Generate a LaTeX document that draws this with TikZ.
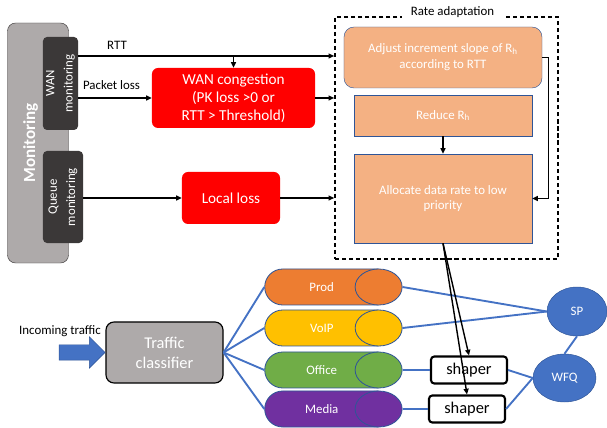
\documentclass[tikz,border=0pt]{standalone}
\usepackage{fontspec}
\setmainfont{Carlito}
\usepackage{tikz}
\usetikzlibrary{shapes,arrows.meta,positioning,calc}
\definecolor{monfill}{RGB}{174,170,170}
\definecolor{mondark}{RGB}{59,56,56}
\definecolor{alarmred}{RGB}{255,0,0}
\definecolor{rateorange}{RGB}{244,177,131}
\definecolor{edgeblue}{RGB}{47,85,151}
\definecolor{linkblue}{RGB}{68,114,196}
\definecolor{prodc}{RGB}{237,125,49}
\definecolor{voipc}{RGB}{255,192,0}
\definecolor{officec}{RGB}{112,173,71}
\definecolor{mediac}{RGB}{112,48,160}

\begin{document}
\begin{tikzpicture}[
    x=0.03cm, y=-0.03cm,
    font=\fontsize{11}{13.5}\selectfont,
    monbox/.style={draw=mondark,fill=monfill,rounded corners=0.24cm,
      minimum width=1.83cm,minimum height=7.2cm},
    probe/.style={fill=mondark,rounded corners=0.12cm,text=white,align=center,
      rotate=90,inner sep=0pt,font=\fontsize{11}{15.5}\selectfont},
    alarm/.style={fill=alarmred,rounded corners=0.18cm,text=white,align=center,
      font=\fontsize{13}{15.5}\selectfont},
    ratebox/.style={draw,line width=1.4pt,dash pattern=on 3.5pt off 2.5pt,
      minimum width=6.69cm,minimum height=7.26cm},
    rateop/.style={draw=edgeblue,fill=rateorange,text=white,align=center,
      minimum width=5.34cm},
    sorter/.style={draw,line width=1pt,fill=monfill,rounded corners=0.24cm,
      text=white,align=center,minimum width=3.51cm,minimum height=1.83cm,
      font=\fontsize{14}{17}\selectfont},
    inflow/.style={single arrow,draw=edgeblue,fill=linkblue,inner xsep=0pt,
      inner ysep=0.225cm,single arrow head extend=0.24cm,minimum height=1.38cm},
    qbody/.style={rounded rectangle,rounded rectangle east arc=none,
      draw=edgeblue,line width=0.7pt,text=white,inner sep=0pt,
      minimum width=3.405cm,minimum height=1.08cm},
    qend/.style={ellipse,draw=edgeblue,line width=0.7pt,inner sep=0pt,
      minimum width=1.41cm,minimum height=1.08cm},
    shaperbox/.style={draw,line width=1.8pt,fill=white,rounded corners=0.1cm,
      minimum width=2.28cm,minimum height=0.81cm,inner sep=0pt,
      font=\fontsize{14}{16}\selectfont},
    sched/.style={ellipse,draw=edgeblue,fill=linkblue,text=white,inner sep=0pt},
    flow/.style={-{Triangle[length=1.7mm,width=1.5mm]},line width=1.2pt},
    link/.style={draw=linkblue,line width=1.6pt}
  ]
  \useasboundingbox (0,0) rectangle (607,428);

  % monitoring side
  \node[monbox] (mon) at (38,143) {};
  \node[rotate=90,text=white,font=\fontsize{14.5}{17}\selectfont\bfseries] (mon-title) at (30.5,143) {Monitoring};
  \node[probe,minimum width=2.79cm,minimum height=1.05cm] (wan) at (60.5,83.5) {WAN\\monitoring};
  \node[probe,minimum width=2.76cm,minimum height=1.2cm] (queue) at (63,197) {Queue\\monitoring};

  \node[alarm,minimum width=4.89cm,minimum height=1.8cm] (wancong) at (233.5,98)
    {WAN congestion\\(PK loss >0 or\\RTT > Threshold)};
  \node[alarm,minimum width=2.94cm,minimum height=1.56cm] (loss) at (231,198) {Local loss};

  \node (rtt-lbl) at (117,45) {RTT};
  \node (pl-lbl) at (111.5,85) {Packet loss};

  % rate adaptation block
  \node[ratebox] (rate) at (446.5,138) {};
  \node[fill=white,inner xsep=7.5pt,inner ysep=1pt] (rate-title) at (452.5,12) {Rate adaptation};
  \node[rateop,rounded corners=0.3cm,minimum width=5.94cm,minimum height=1.83cm] (adjust) at (443,57.5)
    {Adjust increment slope of R\textsubscript{h}\\according to RTT};
  \node[rateop,minimum height=1.23cm] (reduce) at (443,115.5) {Reduce R\textsubscript{h}};
  \node[rateop,minimum height=2.67cm] (alloc) at (443,198.5) {Allocate data rate to low\\priority};

  \draw[flow] (wan.south |- 0,56) -- (rate.west |- 0,56);
  \draw[flow] (wancong.north |- 0,56) -- (wancong.north);
  \draw[flow] (wan.south |- wancong.west) -- (wancong.west);
  \draw[flow] (wancong.east) -- (rate.west |- wancong.east);
  \draw[flow] (queue.south |- loss.west) -- (loss.west);
  \draw[flow] (loss.east) -- (rate.west |- loss.east);
  \draw[flow] (reduce.south) -- (alloc.north);
  \draw[flow] (adjust.east) -- ++(6,0) |- (alloc.east);

  % traffic path
  \node[sorter] (classifier) at (164.5,352.5) {Traffic\\classifier};
  \node[inflow,anchor=tip] (inflow) at (classifier.west) {};
  \node (in-lbl) at (60,331) {Incoming traffic};

  \foreach \q/\y/\c/\t in {prod/287/prodc/Prod,voip/328/voipc/VoIP,
      office/370/officec/Office,media/409/mediac/Media}{
    \node[qbody,fill=\c] (\q) at (321.75,\y) {\t};
    \node[qend,fill=\c] (\q-end) at (\q.east) {};
    \draw[link] (classifier.east) -- (\q.west);
  }

  \node[sched,minimum width=1.8cm,minimum height=1.47cm] (sp) at (577,311.5) {SP};
  \node[sched,minimum width=1.89cm,minimum height=1.44cm] (wfq) at (564.5,378) {WFQ};
  \node[shaperbox] (shaper1) at (469,370) {shaper};
  \node[shaperbox] (shaper2) at (467,409) {shaper};

  \draw[link] (prod-end.east) -- (sp.west);
  \draw[link] (voip-end.east) -- (sp.west);
  \draw[link] (office-end.east) -- (shaper1.west);
  \draw[link] (media-end.east) -- (shaper2.west);
  \draw[link] (shaper1.east) -- (wfq.west);
  \draw[link] (shaper2.east) -- (wfq.west);
  \draw[link] (wfq.north) -- (sp.south);

  \draw[flow] (alloc.south) -- (shaper1.north);
  \draw[flow] (alloc.south) -- (shaper2.north);
\end{tikzpicture}
\end{document}
